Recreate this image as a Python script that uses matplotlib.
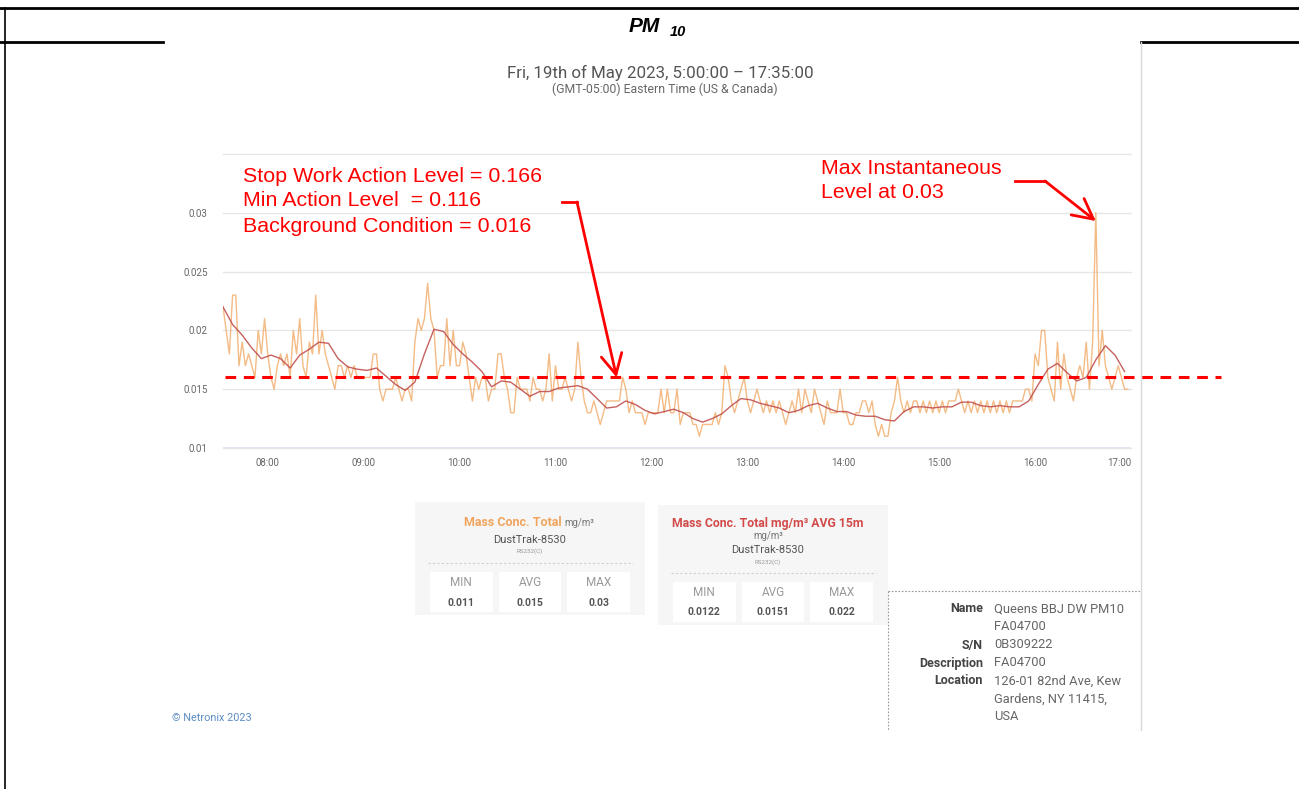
import numpy as np
import matplotlib.pyplot as plt
from matplotlib.patches import Rectangle
from matplotlib.lines import Line2D

# PM10 readings, thousandths of mg/m3, one every 2 minutes from 07:32
pm10_total = [
    22, 20, 18, 23, 23, 17, 19, 17, 18, 17, 16, 20, 18, 21, 18, 16, 15, 17, 18, 17,
    18, 16, 20, 18, 21, 17, 16, 19, 18, 23, 18, 20, 18, 17, 16, 15, 17, 17, 16, 17,
    16, 17, 16, 16, 16, 16, 16, 18, 18, 15, 14, 15, 15, 15, 16, 15, 14, 15,
    15, 14, 19, 21, 20, 21, 24, 21, 20, 16, 17, 17, 21, 17, 20, 17, 17, 19, 18, 16,
    14, 16, 15, 16, 16, 14, 15, 15, 18, 18, 16, 15, 13, 13, 16, 15, 15, 15, 14, 16,
    15, 15, 14, 15, 18, 14, 17, 15, 15, 16, 15, 14, 15, 19, 16, 14, 13, 13,
    14, 13, 12, 13, 14, 14, 14, 14, 14, 16, 15, 13, 14, 13, 13, 13, 12, 13, 13, 13,
    13, 15, 13, 15, 13, 13, 15, 12, 13, 13, 13, 12, 12, 11, 12, 12, 12, 12, 13, 12,
    13, 17, 16, 14, 13, 14, 15, 16, 14, 13, 14, 15, 14, 13, 14, 13, 14, 13, 14,
    13, 12, 13, 14, 13, 15, 13, 15, 14, 13, 15, 14, 13, 12, 14, 13, 13, 13, 15, 13,
    13, 12, 12, 13, 13, 14, 14, 13, 14, 12, 11, 12, 11, 11, 13, 14, 16, 14, 13, 14,
    13, 14, 14, 13, 14, 13, 14, 13, 14, 13, 14, 13, 14, 14, 14, 15, 14, 13, 14,
    13, 14, 13, 14, 13, 14, 13, 14, 13, 14, 13, 14, 13, 14, 14, 14, 14, 15, 15, 14,
    18, 17, 20, 20, 16, 15, 14, 19, 15, 18, 16, 15, 14, 16, 17, 16, 19, 15, 19, 30,
    17, 20, 17, 16, 15, 16, 17, 16, 15, 15,
]
# 15 minute average, thousandths of mg/m3, one every 6 minutes from 07:32
pm10_avg15 = [
    22.0, 20.5, 19.6, 18.5, 17.6, 17.9, 17.6, 16.8, 17.9, 18.4, 19.0, 18.9, 17.6, 16.9,
    16.7, 16.6, 16.8, 16.1, 15.4, 14.9,
    15.6, 18.0, 20.1, 19.9, 18.8, 18.0, 17.3, 16.5, 15.2, 15.7, 15.6, 15.0, 14.4, 14.8,
    14.8, 15.1, 15.2, 15.3, 15.0,
    14.2, 13.4, 13.5, 14.0, 13.7, 13.2, 12.9, 13.1, 13.3, 13.0, 12.5, 12.2, 12.5, 12.9,
    13.6, 14.2, 14.1, 13.8, 13.6, 13.4,
    13.0, 13.2, 13.6, 13.8, 13.4, 13.1, 13.1, 12.8, 12.7, 12.7, 12.4, 12.3, 13.1, 13.5,
    13.5, 13.4, 13.5, 13.5, 13.9,
    13.9, 13.6, 13.5, 13.6, 13.5, 13.5, 14.0, 15.4, 16.7, 17.2, 16.4, 15.7, 16.0, 17.5,
    18.7, 17.9, 16.5,
]
start_min = 7 * 60 + 32
background = 0.016
tick_hours = list(range(8, 18))
y_ticks = [0.01, 0.015, 0.02, 0.025, 0.03, 0.035]
y_labels = ['0.01', '0.015', '0.02', '0.025', '0.03', '']

stats_total = [('MIN', '0.011'), ('AVG', '0.015'), ('MAX', '0.03')]
stats_avg = [('MIN', '0.0122'), ('AVG', '0.0151'), ('MAX', '0.022')]
info_rows = [('Name', 'Queens BBJ DW PM10'), ('', 'FA04700'), ('S/N', '0B309222'),
             ('Description', 'FA04700'), ('Location', '126-01 82nd Ave, Kew'),
             ('', 'Gardens, NY 11415,'), ('', 'USA')]

t_total = start_min + 2 * np.arange(len(pm10_total))
v_total = np.array(pm10_total) / 1000
t_avg = start_min + 6 * np.arange(len(pm10_avg15))
v_avg = np.array(pm10_avg15) / 1000

W, H = 1299, 789
fig = plt.figure(figsize=(W / 100, H / 100), dpi=100)


def fx(x):
    return x / W


def fy(y):
    return 1 - y / H


def hline(x0, x1, y, **kw):
    fig.add_artist(Line2D([fx(x0), fx(x1)], [fy(y), fy(y)], transform=fig.transFigure, **kw))


def vline(x, y0, y1, **kw):
    fig.add_artist(Line2D([fx(x), fx(x)], [fy(y0), fy(y1)], transform=fig.transFigure, **kw))


def box(x0, y0, x1, y1, **kw):
    fig.add_artist(Rectangle((fx(x0), fy(y1)), fx(x1) - fx(x0), fy(y0) - fy(y1),
                             transform=fig.transFigure, **kw))


def txt(x, y, s, **kw):
    kw.setdefault('family', 'Roboto')
    kw.setdefault('va', 'center')
    fig.text(fx(x), fy(y), s, **kw)


# table frame
hline(0, W, 8, color='black', lw=2)
hline(0, 163, 42, color='black', lw=2)
hline(1141, W, 42, color='black', lw=2)
vline(5, 8, H, color='black', lw=1.2)
vline(1141, 42, 730, color='#d8d8d8', lw=1)
txt(629, 27, 'PM', family='Liberation Sans', weight='bold', style='italic', fontsize=15)
txt(670, 32, '10', family='Liberation Sans', weight='bold', style='italic', fontsize=10.5)

# header
txt(660, 73, 'Fri, 19th of May 2023, 5:00:00 \u2013 17:35:00', ha='center', color='#555555',
    fontsize=12.2)
txt(665, 89, '(GMT-05:00) Eastern Time (US & Canada)', ha='center', color='#666666', fontsize=8.8)

# chart
ax = fig.add_axes([fx(223), fy(448), fx(1131) - fx(223), fy(154) - fy(448)])
ax.plot(t_total, v_total, color='#f0a45c', lw=1.0, alpha=0.75)
ax.plot(t_avg, v_avg, color='#c0504d', lw=1.0, alpha=0.9)
ax.plot([start_min + 1, start_min + 624], [background, background], color='red', lw=2.2,
        linestyle=(0, (3.5, 2.5)), clip_on=False, zorder=5)
ax.set_xlim(start_min, start_min + 567.5)
ax.set_ylim(0.01, 0.035)
ax.set_yticks(y_ticks)
ax.set_yticklabels(y_labels)
ax.set_xticks([h * 60 for h in tick_hours])
ax.set_xticklabels(['%02d:00' % h for h in tick_hours])
ax.get_xticklabels()[-1].set_ha('right')
ax.tick_params(length=0, labelsize=7, labelcolor='#666666', pad=7)
ax.tick_params(axis='y', pad=11)
for lab in ax.get_xticklabels() + ax.get_yticklabels():
    lab.set_family('Roboto')
for s in ax.spines.values():
    s.set_visible(False)
for yv in y_ticks:
    ax.axhline(yv, color='#e6e6e6', lw=1, zorder=0, clip_on=False)
ax.axhline(0.01, color='#dde3ee', lw=1.2, zorder=0)
ax.set_facecolor('none')

# annotations
red_font = dict(family='Liberation Sans', color='red', fontsize=15.4, va='center')
txt(243, 177, 'Stop Work Action Level = 0.166', **red_font)
txt(243, 201, 'Min Action Level  = 0.116', **red_font)
txt(243, 226, 'Background Condition = 0.016', **red_font)
txt(821, 168, 'Max Instantaneous', **red_font)
txt(821, 192, 'Level at 0.03', **red_font)

head = '->,head_length=1.45,head_width=0.75'
hline(562, 577, 202, color='red', lw=2)
ax.annotate('', xy=(start_min + (617 - 223) / 1.6, background), xycoords='data',
            xytext=(fx(577), fy(202)), textcoords='figure fraction',
            arrowprops=dict(arrowstyle=head, color='red', lw=2, shrinkA=0, shrinkB=0))
peak = int(np.argmax(v_total))
hline(1015, 1045, 181, color='red', lw=2)
ax.annotate('', xy=(t_total[peak], v_total[peak] - 0.0007), xycoords='data',
            xytext=(fx(1045), fy(181)), textcoords='figure fraction',
            arrowprops=dict(arrowstyle=head, color='red', lw=2, shrinkA=0, shrinkB=0))


# stat boxes
def stat_box(x0, y0, x1, y1, title_rows, sep_y, stats, lab_y, val_y):
    box(x0, y0, x1, y1, facecolor='#f6f6f6', edgecolor='none')
    for r in title_rows:
        txt(*r[:3], **r[3])
    hline(x0 + 13, x1 - 12, sep_y, color='#d0d0d0', lw=0.8, linestyle=(0, (2, 2)))
    cw = (x1 - x0 - 30) / 3
    for k, (lab, val) in enumerate(stats):
        bx = x0 + 15 + k * (cw + 2)
        box(bx, sep_y + 9, bx + cw - 4, y1 - 3, facecolor='white', edgecolor='none')
        cx = bx + (cw - 4) / 2
        txt(cx, lab_y, lab, ha='center', color='#999999', fontsize=8.5)
        txt(cx, val_y, val, ha='center', color='#555555', fontsize=7.5, weight='bold')


stat_box(415, 502, 645, 615,
         [(562, 523, 'Mass Conc. Total', dict(ha='right', color='#f0a55e', fontsize=9, weight='bold')),
          (564, 523, 'mg/m\u00b3', dict(ha='left', color='#777777', fontsize=7)),
          (530, 540, 'DustTrak-8530', dict(ha='center', color='#555555', fontsize=8)),
          (530, 551, 'RS232(C)', dict(ha='center', color='#999999', fontsize=4.5))],
         563, stats_total, 582, 603)
stat_box(658, 505, 888, 625,
         [(768, 523, 'Mass Conc. Total mg/m\u00b3 AVG 15m', dict(ha='center', color='#d24b4b', fontsize=8.8, weight='bold')),
          (768, 536, 'mg/m\u00b3', dict(ha='center', color='#777777', fontsize=7)),
          (768, 550, 'DustTrak-8530', dict(ha='center', color='#555555', fontsize=8)),
          (768, 562, 'RS232(C)', dict(ha='center', color='#999999', fontsize=4.5))],
         573, stats_avg, 592, 612)

# device info
hline(888, 1141, 591, color='#999999', lw=0.8, linestyle=(0, (1.5, 1.5)))
vline(888, 591, 730, color='#999999', lw=0.8, linestyle=(0, (1.5, 1.5)))
for k, (lab, val) in enumerate(info_rows):
    y = 609 + 18 * k
    if lab:
        txt(983, y, lab, ha='right', color='#444444', fontsize=9, weight='bold')
    txt(994, y, val, ha='left', color='#666666', fontsize=9.3)

txt(172, 718, '\u00a9 Netronix 2023', ha='left', color='#5b8cc4', fontsize=7.8)

fig.savefig('out.png', dpi=100)
